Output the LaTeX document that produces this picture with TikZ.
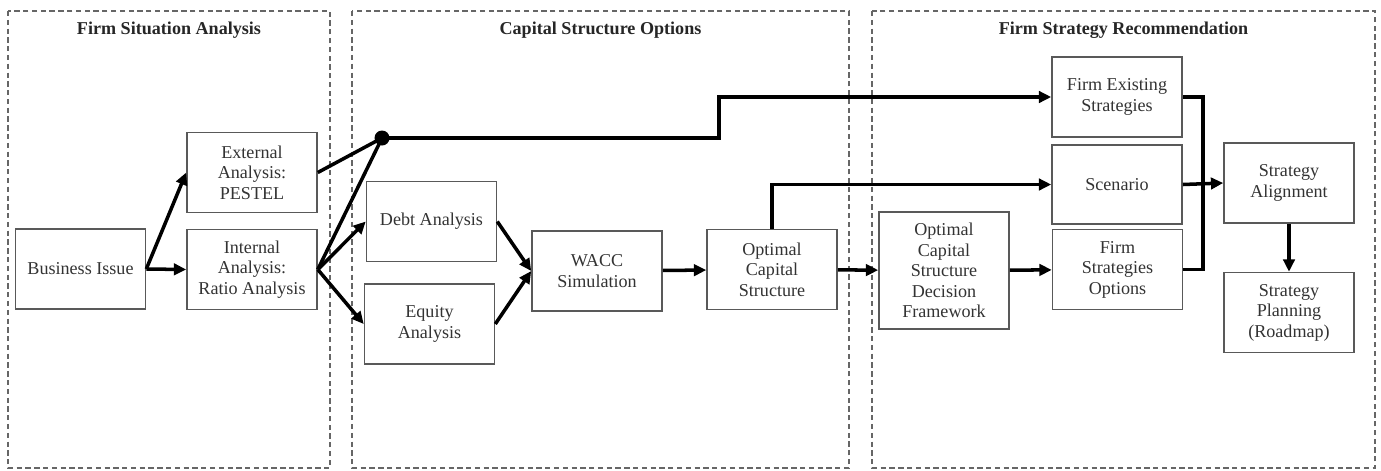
\documentclass[tikz,border=0pt]{standalone}
\usepackage{fontspec}
\setmainfont{Liberation Serif}
\usepackage{tikz}
\usetikzlibrary{arrows.meta,positioning,calc}

\begin{document}
\begin{tikzpicture}[
    blk/.style={draw=black!65, line width=0.9pt, minimum width=2.6cm, minimum height=1.6cm, align=center, text=black!80, font=\fontsize{10.3}{11.7}\selectfont, fill=white},
    pnl/.style={draw=black!60, dashed, dash pattern=on 3pt off 2pt, line width=0.7pt},
    ttl/.style={font=\fontsize{10.3}{12}\selectfont\bfseries, text=black!85},
    arr/.style={-{Triangle[length=7pt,width=6.5pt]}, line width=2pt},
    ln/.style={line width=2pt}
]
\useasboundingbox (0,0) rectangle (27.62,-9.40);

% panels
\draw[pnl] (0.16,-0.22) rectangle (6.60,-9.36);
\draw[pnl] (7.04,-0.22) rectangle (16.98,-9.36);
\draw[pnl] (17.44,-0.22) rectangle (27.50,-9.36);
\node[ttl] (t1) at (3.38,-0.60) {Firm Situation Analysis};
\node[ttl] (t2) at (12.01,-0.60) {Capital Structure Options};
\node[ttl] (t3) at (22.47,-0.60) {Firm Strategy Recommendation};

% firm situation
\node[blk] (biz) at (1.61,-5.38) {Business Issue};
\node[blk] (ext) at (5.04,-3.45) {External\\Analysis:\\PESTEL};
\node[blk] (int) at (5.04,-5.39) {Internal\\Analysis:\\Ratio Analysis};
\node[circle, fill=black, inner sep=0pt, minimum size=0.3cm] (jn) at (7.64,-2.76) {};

% capital structure
\node[blk] (debt) at (8.63,-4.43) {Debt Analysis};
\node[blk] (eq) at (8.59,-6.48) {Equity\\Analysis};
\node[blk] (wacc) at (11.94,-5.42) {WACC\\Simulation};
\node[blk] (ocs) at (15.44,-5.39) {Optimal\\Capital\\Structure};

% strategy
\node[blk, minimum height=2.34cm] (ocsdf) at (18.88,-5.41) {Optimal\\Capital\\Structure\\Decision\\Framework};
\node[blk] (fes) at (22.34,-1.94) {Firm Existing\\Strategies};
\node[blk, minimum height=1.58cm] (scen) at (22.34,-3.69) {Scenario};
\node[blk] (fso) at (22.35,-5.39) {Firm\\Strategies\\Options};
\node[blk] (sa) at (25.78,-3.66) {Strategy\\Alignment};
\node[blk] (sp) at (25.78,-6.25) {Strategy\\Planning\\(Roadmap)};

\coordinate (knee) at (14.38,-2.76);
\coordinate (bus) at (24.06,-3.66);

\draw[arr] (biz.east) -- (ext.west);
\draw[arr] (biz.east) -- (int.west);
\draw[ln] (ext.east) -- (jn.center);
\draw[ln] (int.east) -- (jn.center);
\draw[arr] (int.east) -- (debt.west);
\draw[arr] (int.east) -- (eq.west);
\draw[arr] (debt.east) -- (wacc.west);
\draw[arr] (eq.east) -- (wacc.west);
\draw[arr] (wacc) -- (ocs);
\draw[arr] (ocs) -- (ocsdf);
\draw[arr] (ocsdf) -- (fso);
\draw[arr] (jn.center) -- (knee) |- (fes.west);
\draw[arr] (ocs.north) |- (scen.west);
\draw[ln] (fes.east) -| (bus);
\draw[ln] (fso.east) -| (bus);
\draw[arr] (scen.east) -- (sa.west);
\draw[arr] (sa) -- (sp);
\end{tikzpicture}
\end{document}
